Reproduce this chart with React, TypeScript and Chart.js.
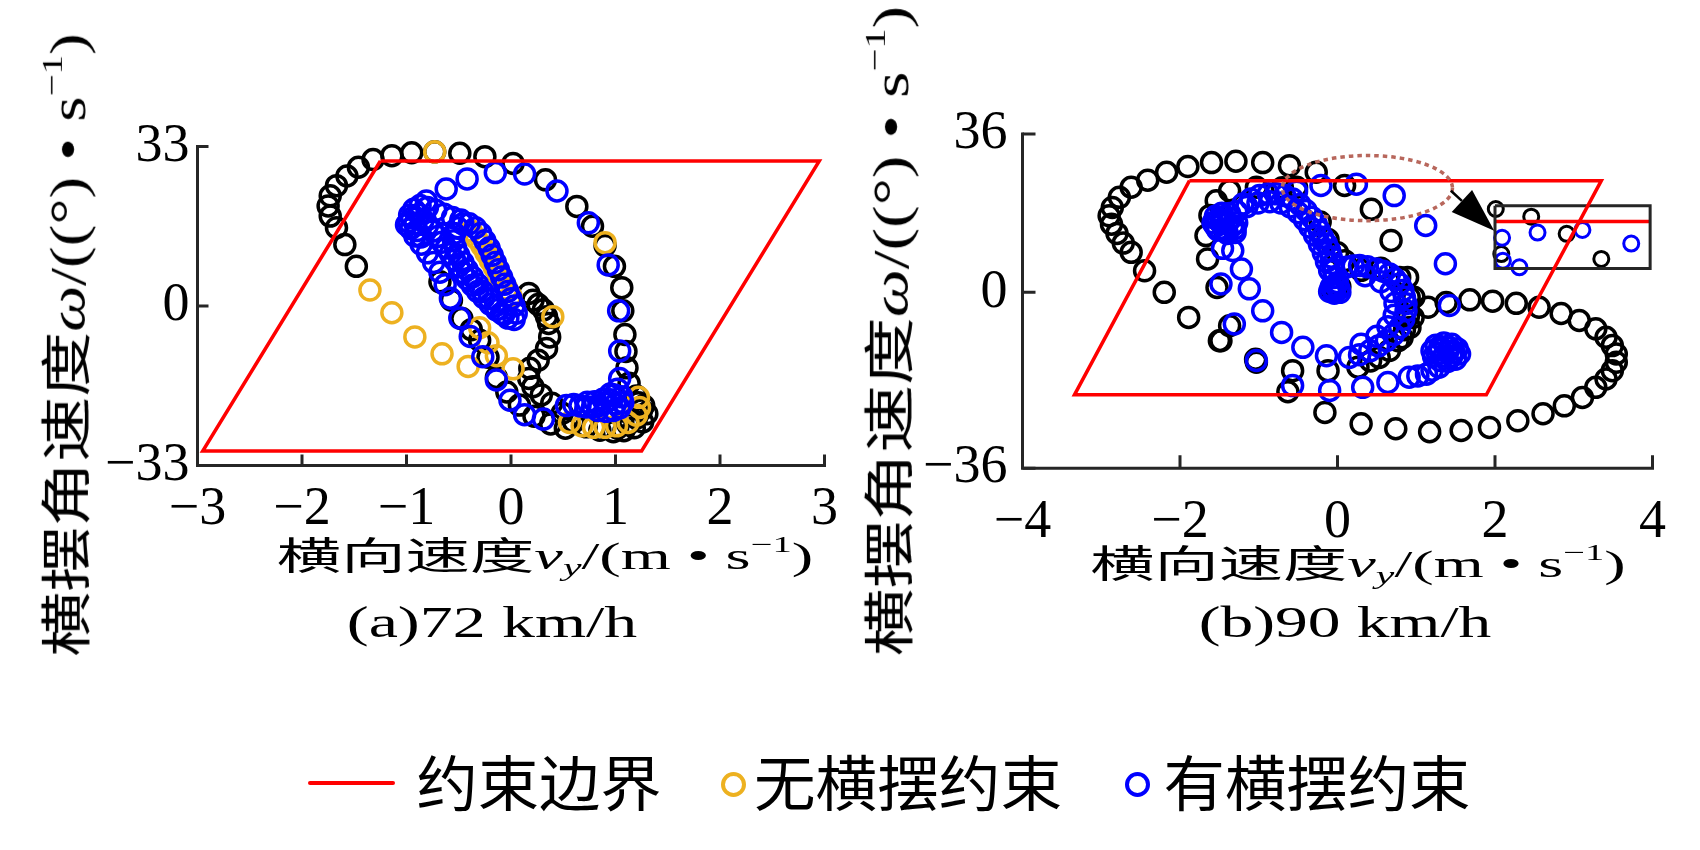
import React, { useEffect, useLayoutEffect, useRef } from 'react';
import { Chart, registerables } from 'chart.js';

Chart.register(...registerables);

const TICK_FONT = "'Liberation Serif', 'Times New Roman', serif";
const TEXT_FONT = "'Liberation Serif', 'Noto Sans CJK SC', serif";
const AXIS_COLOR = '#262626';
const RED = '#ff0000';
const ORANGE = '#EDB120';
const BLUE = '#0000ff';
const BLACK = '#000000';
const TICK_SIZE = 54;

// ---------- (a) 72 km/h ----------
const A_X_TICKS = [-3, -2, -1, 0, 1, 2, 3];
const A_Y_TICKS = [-33, 0, 33];
const A_Y_LABELS = ['\u221233', '0', '33'];

const A_BOUND_X = [-1.25, 2.95, 1.25, -2.95, -1.25];
const A_BOUND_Y = [30, 30, -30, -30, 30];

const A_BLACK_X = [-1.48, -1.59, -1.67, -1.73, -1.75, -1.73, -1.67, -1.57, -1.46, -1.32, -1.14, -0.95, -0.73, -0.49, -0.25, 0.02, 0.33, 0.63, 0.78, 0.9, 0.99, 1.06, 1.07, 1.09, 1.1, 1.11, 1.13, 1.2, 1.27, 1.3, 1.26, 1.18, 1.08, 0.98, 0.85, 0.72, 0.6, 0.49, 0.39, 0.29, 0.21, 0.17, 0.18, 0.26, 0.34, 0.37, 0.36, 0.31, 0.21, 0.17, 0.26, 0.34, -0.68, -0.57, -0.47, -0.38, -0.3, -0.22, -0.14, -0.04, 0.08, 0.22, 0.38, 0.52, 1.25, 1.2, 1.12, 1.02, 1.22];
const A_BLACK_Y = [8.2, 12.7, 16.2, 18.6, 20.7, 22.8, 24.9, 26.9, 28.7, 30.3, 31.1, 31.7, 31.9, 31.6, 30.9, 29.5, 26.1, 20.6, 16.5, 12.5, 8.2, 3.8, -1.0, -5.9, -9.4, -12.8, -16.0, -18.6, -20.6, -22.3, -24.0, -25.2, -25.8, -26.0, -25.7, -25.0, -24.0, -22.2, -20.1, -18.4, -16.7, -15.0, -12.9, -11.2, -8.8, -6.4, -3.6, -0.8, 1.2, 2.6, 0.3, -2.2, 5.0, 1.2, -2.6, -4.9, -7.1, -10.6, -14.8, -17.8, -20.5, -22.8, -24.4, -25.3, -21.5, -23.2, -24.5, -25.3, -20.0];

const A_ORANGE_X = [-0.73, 0.9, -1.35, -1.14, -0.92, -0.66, -0.41, -0.3, -0.22, -0.14, 0.02, 0.4, 0.56, 0.68, 0.79, 0.9, 1.01, 1.12, 1.2, 1.23, 1.22, -0.38, -0.33, -0.28, -0.24, -0.2, -0.16, -0.12, -0.08, -0.04, 0.0];
const A_ORANGE_Y = [31.9, 13.1, 3.3, -1.4, -6.4, -9.9, -12.5, -4.5, -7.6, -10.3, -13.0, -2.2, -24.1, -24.8, -25.1, -25.1, -24.8, -24.1, -22.6, -21.0, -18.9, 15.5, 14.0, 12.5, 11.0, 9.5, 8.0, 6.5, 5.0, 3.5, 2.0];

const A_BLUE_X = [
  -0.81, -0.62, -0.42, -0.15, 0.13, 0.44, 0.74, 0.93, 1.03, 1.04, 1.04,
  1.02, 0.99, 0.95, 0.9, 0.84, 0.78, 0.72, 0.66, 0.6, 1.06, 1.07, 1.04, 0.98, 0.91, 0.83, 0.95, 0.88, 0.8, 0.73, 1.0,
  0.53, 0.31, 0.13, -0.01, -0.14, -0.27, -0.39, -0.49, -0.58, -0.63,
  -0.68, -0.74, -0.8, -0.86, -0.92, -0.96, -0.98, -0.97, -0.93, -0.87, -0.8, -0.72, -0.64, -0.56, -0.48, -0.88, -0.84, -0.8, -0.75, -0.7, -0.66, -0.62, -0.58, -0.54, -0.5, -0.46, -0.42, -0.37, -0.32, -0.26, -0.2, -0.14, -0.07, -0.92, -0.9, -0.86, -1.0, -0.95,
  0.05, 0.03, 0.0, -0.03, -0.06, -0.09, -0.12, -0.15, -0.18, -0.21, -0.25, -0.29, -0.34, -0.4, -0.46, -0.51, -0.54, -0.55, -0.53, -0.5, -0.46, -0.42, -0.37, -0.32, -0.27, -0.21, -0.15, -0.09, -0.03, 0.03,
];
const A_BLUE_Y = [
  21.7, 24.2, 26.3, 27.6, 27.3, 23.8, 17.2, 8.5, -1.0, -9.3, -15.0,
  -17.2, -18.4, -19.4, -20.1, -20.6, -20.9, -20.9, -20.7, -20.4, -18.8, -20.0, -21.1, -21.6, -21.8, -21.6, -18.2, -19.3, -19.8, -19.9, -20.3,
  -20.6, -23.4, -22.5, -19.5, -15.3, -10.5, -6.3, -2.5, 1.6, 4.4,
  7.0, 9.0, 11.0, 12.8, 14.5, 16.0, 17.4, 18.8, 20.0, 20.8, 20.4, 19.8, 19.0, 18.3, 17.8, 19.0, 17.8, 16.6, 15.5, 14.4, 13.2, 12.0, 10.8, 9.5, 8.2, 6.9, 5.6, 4.3, 3.0, 1.7, 0.4, -0.8, -1.8, 17.0, 15.6, 14.3, 16.8, 18.2,
  -1.5, 0.0, 1.5, 3.0, 4.5, 6.0, 7.5, 9.0, 10.5, 12.0, 13.5, 15.0, 16.2, 17.0, 17.0, 16.2, 15.0, 13.5, 12.0, 10.5, 9.0, 7.5, 6.0, 4.5, 3.0, 1.5, 0.0, -1.5, -2.5, -2.8,
];

// ---------- (b) 90 km/h ----------
const B_X_TICKS = [-4, -2, 0, 2, 4];
const B_Y_TICKS = [-40, 0, 36];
const B_Y_LABELS = ['\u221236', '0', '36'];

const B_BOUND_X = [-1.88, 3.35, 1.89, -3.34, -1.88];
const B_BOUND_Y = [25.4, 25.4, -23.3, -23.3, 25.4];

const B_BLACK_X = [
  -2.45, -2.62, -2.72, -2.8, -2.87, -2.9, -2.86, -2.77, -2.62, -2.41, -2.17, -1.9, -1.6, -1.29, -0.95, -0.61, -0.27, 0.09, 0.43, 0.68,
  -2.2, -1.89, -1.5, -1.03, -0.63, -0.16, 0.3, 0.74, 1.17, 1.57, 1.93, 2.29, 2.61, 2.88, 3.11, 3.28, 3.41, 3.49, 3.54, 3.54, 3.49, 3.41, 3.28, 3.07, 2.84, 2.56, 2.27, 1.97, 1.68, 1.38, 1.15,
  0.91, 0.79, 0.55, 0.3, 0.9, 0.85, 0.77, 0.53, 0.26, -0.12, -0.57, -1.04, -1.48, -1.37, -1.53, -1.65, -1.67, -1.62, -1.54, -1.37, -1.03, -0.7, -0.52, 0.09, -0.22, -0.12, 0.0,
  0.89, 0.97, 0.96, 0.92, 0.82, 0.66, 0.42,
  -0.04, -0.08, 0.0, -0.02, 0.03,
];
const B_BLACK_Y = [
  4.9, 9.1, 11.2, 13.4, 15.5, 17.4, 19.3, 21.6, 23.9, 25.5, 27.3, 28.6, 29.5, 29.8, 29.5, 28.8, 27.3, 24.3, 18.9, 11.8,
  0.0, -5.7, -11.0, -15.9, -22.6, -27.3, -29.9, -31.0, -31.7, -31.4, -30.7, -29.2, -27.6, -25.8, -23.9, -21.6, -19.7, -17.8, -15.9, -14.0, -12.1, -10.2, -8.3, -6.4, -4.8, -3.4, -2.5, -2.0, -1.7, -2.3, -3.4,
  -1.1, 3.4, 5.5, 5.0, -5.5, -8.5, -11.0, -14.8, -17.0, -17.8, -17.8, -15.2, -11.0, -7.6, 1.1, 7.6, 12.9, 17.5, 20.8, 23.1, 23.9, 23.8, 23.9, 7.2, 16.0, 12.0, 9.0,
  3.4, -1.1, -5.7, -8.0, -10.3, -13.2, -15.6,
  1.0, 0.3, 1.8, 0.6, 1.3,
];

const B_BLUE_X = [
  -1.55, -1.52, -1.45, -1.35, -1.28, -1.3, -1.42, -1.52, -1.48, -1.4, -1.33, -1.45, -1.55, -1.47, -1.37, -1.4, -1.3, -1.58,
  -1.2, -1.1, -0.99, -0.88, -0.78, -0.67, -0.57, -0.48, -0.4, -0.33, -0.27, -0.23, -0.19, -0.14, -0.1, -0.08, -0.06, -0.05, -0.04,
  -1.28, -1.15, -1.01, -0.86, -0.72, -0.6, -0.5, -0.42, -0.35, -0.29, -0.23, -0.18, -0.14, -0.1,
  -0.52, -0.21, 0.24, 0.72, 1.12, 1.37, 1.42,
  -0.05, -0.02, 0.02, -0.08, 0.0, -0.04, -0.1, 0.03,
  0.11, 0.2, 0.28, 0.38, 0.49, 0.58, 0.66, 0.73, 0.79, 0.83, 0.85, 0.87, 0.87, 0.84, 0.79, 0.71, 0.62, 0.52, 0.41, 0.28, 0.15, -0.14, -0.44, -0.71, -0.95, -1.12, -1.22, -1.33, -1.46,
  0.35, 0.55, 0.68, 0.73, 0.72, 0.64, 0.5, 0.3,
  1.25, 1.35, 1.45, 1.52, 1.55, 1.5, 1.4, 1.3, 1.22, 1.2, 1.3, 1.4, 1.45, 1.35, 1.3, 1.42, 1.48, 1.27,
  1.29, 1.2, 1.13, 1.02, 0.91, 0.64, 0.32, -0.1, -0.57, -1.03, -1.31, -1.48,
];
const B_BLUE_Y = [
  15.0, 16.5, 17.2, 16.8, 15.8, 14.5, 14.0, 14.2, 15.8, 15.6, 15.2, 16.4, 17.3, 18.0, 17.9, 13.4, 13.6, 15.8,
  20.1, 21.2, 22.0, 22.4, 22.4, 22.0, 21.2, 20.0, 18.6, 17.1, 15.5, 14.0, 12.5, 11.0, 9.5, 8.0, 6.5, 5.0, 3.4,
  18.4, 19.5, 20.3, 20.6, 20.3, 19.4, 18.1, 16.5, 14.8, 13.0, 11.0, 9.0, 7.0, 5.0,
  23.0, 24.3, 24.6, 22.0, 15.2, 6.5, -3.0,
  0.5, 1.5, 0.8, 1.2, 2.2, -0.2, 0.2, 0.0,
  5.7, 6.0, 6.1, 5.8, 5.3, 4.8, 4.2, 3.1, 1.9, 0.4, -1.1, -2.6, -4.2, -6.1, -8.0, -9.6, -11.0, -12.2, -13.3, -14.2, -14.8, -14.4, -12.5, -9.1, -4.2, 0.8, 5.3, 9.5, 10.0,
  3.8, 2.4, 0.2, -2.5, -5.2, -7.8, -10.0, -11.8,
  -12.0, -11.5, -11.8, -12.8, -14.0, -15.2, -15.7, -15.5, -14.6, -13.3, -13.0, -13.5, -14.5, -14.5, -12.3, -12.6, -13.6, -14.0,
  -17.0, -17.7, -18.6, -19.0, -19.3, -20.5, -21.6, -22.3, -21.2, -15.5, -7.2, 1.9,
];

// inset (zoom of dashed region)
const B_INSET_BOX_X = [2.0, 3.97, 3.97, 2.0, 2.0];
const B_INSET_BOX_Y = [19.7, 19.7, 5.45, 5.45, 19.7];
const B_INSET_RED_X = [2.0, 3.97];
const B_INSET_RED_Y = [16.1, 16.1];
const B_INSET_BLACK_X = [2.01, 2.46, 2.91, 3.35, 2.08];
const B_INSET_BLACK_Y = [18.95, 17.2, 13.3, 7.6, 8.7];
const B_INSET_BLUE_X = [2.09, 2.54, 3.11, 3.73, 2.1, 2.31];
const B_INSET_BLUE_Y = [12.4, 13.6, 14.2, 11.1, 7.2, 5.7];

// dashed ellipse [cx, cy, rx, ry] and arrow (tail -> tip), data units
const B_ELLIPSE = [0.38, 23.7, 1.08, 7.4];
const B_ARROW_X = [1.44, 1.99];
const B_ARROW_Y = [23.1, 14.0];

// ---------- helpers ----------
const fmt = (v: number) => (v < 0 ? '\u2212' + Math.abs(v) : String(v));
const pts = (xs: number[], ys: number[]) => xs.map((x, i) => ({ x, y: ys[i] }));

const circleSet = (label: string, xs: number[], ys: number[], color: string, order: number, r = 10, bw = 3.5) => ({
  label,
  data: pts(xs, ys),
  showLine: false,
  order,
  clip: false,
  pointStyle: 'circle',
  radius: r,
  pointRadius: r,
  pointHoverRadius: r,
  pointBorderWidth: bw,
  pointHoverBorderWidth: bw,
  pointBorderColor: color,
  pointBackgroundColor: 'rgba(0,0,0,0)',
  borderColor: color,
  borderWidth: bw,
  backgroundColor: 'rgba(0,0,0,0)',
});

const lineSet = (label: string, xs: number[], ys: number[], color: string, width: number, order: number) => ({
  label,
  data: pts(xs, ys),
  showLine: true,
  order,
  clip: false,
  borderColor: color,
  backgroundColor: color,
  borderWidth: width,
  pointRadius: 0,
  pointHoverRadius: 0,
  fill: false,
  tension: 0,
});

const frameAndTicks = (len: number) => ({
  id: 'frameAndTicks',
  afterDraw(chart: any) {
    const { ctx, chartArea: a, scales } = chart;
    ctx.save();
    ctx.strokeStyle = AXIS_COLOR;
    ctx.lineWidth = 3;
    ctx.lineCap = 'square';
    ctx.beginPath();
    ctx.moveTo(a.left, a.top);
    ctx.lineTo(a.left, a.bottom);
    ctx.lineTo(a.right, a.bottom);
    ctx.stroke();
    ctx.lineCap = 'butt';
    ctx.beginPath();
    scales.x.ticks.forEach((t: any) => {
      const p = scales.x.getPixelForValue(t.value);
      ctx.moveTo(p, a.bottom);
      ctx.lineTo(p, a.bottom - len);
    });
    scales.y.ticks.forEach((t: any) => {
      const p = scales.y.getPixelForValue(t.value);
      ctx.moveTo(a.left, p);
      ctx.lineTo(a.left + len, p);
    });
    ctx.stroke();
    ctx.restore();
  },
});

const annotations = {
  id: 'annotations',
  afterDatasetsDraw(chart: any) {
    const { ctx, scales } = chart;
    const x = scales.x;
    const y = scales.y;
    const cx = x.getPixelForValue(B_ELLIPSE[0]);
    const cy = y.getPixelForValue(B_ELLIPSE[1]);
    const rx = Math.abs(x.getPixelForValue(B_ELLIPSE[0] + B_ELLIPSE[2]) - cx);
    const ry = Math.abs(y.getPixelForValue(B_ELLIPSE[1] + B_ELLIPSE[3]) - cy);
    ctx.save();
    ctx.setLineDash([4.5, 4]);
    ctx.strokeStyle = '#b8675c';
    ctx.lineWidth = 3.5;
    ctx.beginPath();
    ctx.ellipse(cx, cy, rx, ry, 0, 0, Math.PI * 2);
    ctx.stroke();
    ctx.setLineDash([]);
    const x1 = x.getPixelForValue(B_ARROW_X[0]);
    const y1 = y.getPixelForValue(B_ARROW_Y[0]);
    const x2 = x.getPixelForValue(B_ARROW_X[1]);
    const y2 = y.getPixelForValue(B_ARROW_Y[1]);
    const ang = Math.atan2(y2 - y1, x2 - x1);
    const L = 44;
    const W = 15;
    const bx = x2 - L * Math.cos(ang);
    const by = y2 - L * Math.sin(ang);
    ctx.strokeStyle = '#000';
    ctx.lineWidth = 2.5;
    ctx.beginPath();
    ctx.moveTo(x1, y1);
    ctx.lineTo(bx, by);
    ctx.stroke();
    ctx.fillStyle = '#000';
    ctx.beginPath();
    ctx.moveTo(x2, y2);
    ctx.lineTo(bx + W * Math.sin(ang), by - W * Math.cos(ang));
    ctx.lineTo(bx - W * Math.sin(ang), by + W * Math.cos(ang));
    ctx.closePath();
    ctx.fill();
    ctx.restore();
  },
};

type AxisCfg = {
  xMin: number; xMax: number; xTicks: number[];
  yMin: number; yMax: number; yTicks: number[]; yLabels: string[];
  padTop: number; padRight: number; yAxisW: number; xAxisH: number;
  xPad: number; yPad: number;
};

const makeOptions = (c: AxisCfg) => ({
  responsive: false,
  maintainAspectRatio: false,
  animation: false,
  devicePixelRatio: 1,
  events: [],
  layout: { padding: { left: 0, top: c.padTop, right: c.padRight, bottom: 0 } },
  plugins: { legend: { display: false }, tooltip: { enabled: false } },
  scales: {
    x: {
      type: 'linear',
      min: c.xMin,
      max: c.xMax,
      grid: { display: false, drawTicks: false },
      border: { display: false },
      ticks: {
        autoSkip: false,
        maxRotation: 0,
        padding: c.xPad,
        color: '#000',
        font: { family: TICK_FONT, size: TICK_SIZE, lineHeight: 1.2 },
        callback: (v: number) => fmt(v),
      },
      afterBuildTicks: (s: any) => { s.ticks = c.xTicks.map((v) => ({ value: v })); },
      afterFit: (s: any) => { s.height = c.xAxisH; },
    },
    y: {
      type: 'linear',
      min: c.yMin,
      max: c.yMax,
      grid: { display: false, drawTicks: false },
      border: { display: false },
      ticks: {
        autoSkip: false,
        padding: c.yPad,
        color: '#000',
        font: { family: TICK_FONT, size: TICK_SIZE, lineHeight: 1.2 },
        callback: (_v: number, i: number) => c.yLabels[i],
      },
      afterBuildTicks: (s: any) => { s.ticks = c.yTicks.map((v) => ({ value: v })); },
      afterFit: (s: any) => { s.width = c.yAxisW; },
    },
  },
});

const configA = () => ({
  type: 'scatter',
  data: {
    datasets: [
      lineSet('约束边界', A_BOUND_X, A_BOUND_Y, RED, 3.5, 0),
      circleSet('有横摆约束', A_BLUE_X, A_BLUE_Y, BLUE, 1),
      circleSet('无横摆约束', A_ORANGE_X, A_ORANGE_Y, ORANGE, 2),
      circleSet('对照', A_BLACK_X, A_BLACK_Y, BLACK, 3),
    ],
  },
  options: makeOptions({
    xMin: -3, xMax: 3, xTicks: A_X_TICKS,
    yMin: -33, yMax: 33, yTicks: A_Y_TICKS, yLabels: A_Y_LABELS,
    padTop: 66.5, padRight: 55.5, yAxisW: 197.5, xAxisH: 74.5,
    xPad: 12, yPad: 8,
  }),
  plugins: [frameAndTicks(11)],
});

const configB = () => ({
  type: 'scatter',
  data: {
    datasets: [
      lineSet('约束边界', B_BOUND_X, B_BOUND_Y, RED, 3.5, 0),
      lineSet('放大框', B_INSET_BOX_X, B_INSET_BOX_Y, AXIS_COLOR, 3, 0),
      lineSet('放大边界', B_INSET_RED_X, B_INSET_RED_Y, RED, 3.5, 0),
      circleSet('放大有横摆约束', B_INSET_BLUE_X, B_INSET_BLUE_Y, BLUE, 1, 7.5, 3),
      circleSet('放大对照', B_INSET_BLACK_X, B_INSET_BLACK_Y, BLACK, 1, 7.5, 3),
      circleSet('有横摆约束', B_BLUE_X, B_BLUE_Y, BLUE, 1),
      circleSet('对照', B_BLACK_X, B_BLACK_Y, BLACK, 3),
    ],
  },
  options: makeOptions({
    xMin: -4, xMax: 4, xTicks: B_X_TICKS,
    yMin: -40, yMax: 36, yTicks: B_Y_TICKS, yLabels: B_Y_LABELS,
    padTop: 64, padRight: 57.5, yAxisW: 152.5, xAxisH: 81.7,
    xPad: 22, yPad: 15,
  }),
  plugins: [frameAndTicks(13), annotations],
});

function ChartCanvas({ left, top, width, height, make }: { left: number; top: number; width: number; height: number; make: () => any }) {
  const ref = useRef<HTMLCanvasElement>(null);
  useEffect(() => {
    const chart = new Chart(ref.current as HTMLCanvasElement, make());
    return () => chart.destroy();
  }, []);
  return (
    <canvas
      ref={ref}
      width={width}
      height={height}
      style={{ position: 'absolute', left, top, width, height }}
    />
  );
}

function FitText({ cx, cy, width, size, rotate = 0, cross = 1, children }: { cx: number; cy: number; width: number; size: number; rotate?: number; cross?: number; children: React.ReactNode }) {
  const ref = useRef<HTMLDivElement>(null);
  useLayoutEffect(() => {
    const apply = () => {
      const el = ref.current;
      if (!el) return;
      const w = el.offsetWidth || 1;
      const k = width / w;
      el.style.transform = `rotate(${rotate}deg) scale(${k}, ${cross}) translate(-50%, -50%)`;
    };
    apply();
    const fonts = (document as any).fonts;
    if (fonts && fonts.ready) fonts.ready.then(apply);
  }, []);
  return (
    <div
      ref={ref}
      style={{
        position: 'absolute',
        left: cx,
        top: cy,
        transformOrigin: '0 0',
        whiteSpace: 'nowrap',
        fontSize: size,
        fontFamily: TEXT_FONT,
        lineHeight: 1,
        color: '#000',
      }}
    >
      {children}
    </div>
  );
}

const supStyle: React.CSSProperties = { fontSize: '0.6em', lineHeight: 0, verticalAlign: '0.75em' };
const subStyle: React.CSSProperties = { fontSize: '0.65em', lineHeight: 0, verticalAlign: '-0.3em' };

const YTitle = () => (
  <>
    横摆角速度<i>ω</i>/((°) • s<span style={supStyle}>−1</span>)
  </>
);
const XTitle = () => (
  <>
    横向速度<i>v</i><span style={subStyle}><i>y</i></span>/(m • s<span style={supStyle}>−1</span>)
  </>
);

const circleMark = (cx: number, cy: number, color: string) => (
  <div
    style={{
      position: 'absolute',
      left: cx - 12.5,
      top: cy - 12.5,
      width: 25,
      height: 25,
      boxSizing: 'border-box',
      border: `4px solid ${color}`,
      borderRadius: '50%',
    }}
  />
);

export default function App() {
  return (
    <div style={{ position: 'absolute', left: 0, top: 0, width: 1700, height: 850, background: '#fff', overflow: 'hidden' }}>
      <ChartCanvas left={0} top={80} width={880} height={460} make={configA} />
      <ChartCanvas left={870} top={70} width={840} height={480} make={configB} />

      <FitText cx={68} cy={344.5} width={623} size={46} rotate={-90} cross={1.1}><YTitle /></FitText>
      <FitText cx={891} cy={331} width={650} size={46} rotate={-90} cross={1.1}><YTitle /></FitText>

      <FitText cx={544.5} cy={556} width={537} size={38}><XTitle /></FitText>
      <FitText cx={1358} cy={564} width={536} size={38}><XTitle /></FitText>

      <FitText cx={492} cy={623} width={290} size={44}>(a)72 km/h</FitText>
      <FitText cx={1344.5} cy={623} width={293} size={44}>(b)90 km/h</FitText>

      <div style={{ position: 'absolute', left: 308, top: 781.3, width: 87, height: 4, background: RED, borderRadius: 2 }} />
      <FitText cx={539} cy={786} width={245} size={60}>约束边界</FitText>
      {circleMark(733, 784.3, ORANGE)}
      <FitText cx={907.5} cy={786} width={308} size={60}>无横摆约束</FitText>
      {circleMark(1137, 784.3, BLUE)}
      <FitText cx={1316.7} cy={786} width={307} size={60}>有横摆约束</FitText>
    </div>
  );
}
